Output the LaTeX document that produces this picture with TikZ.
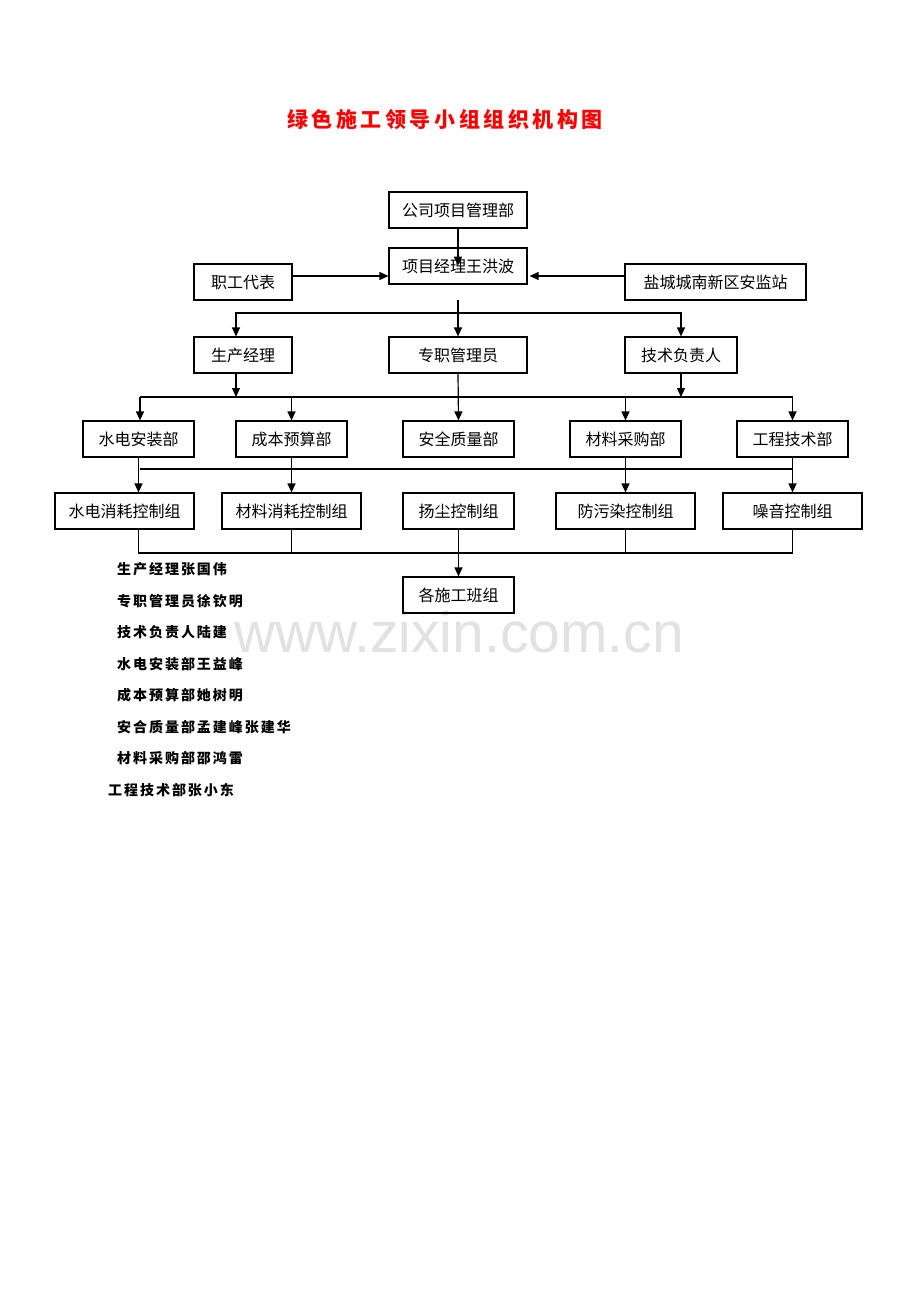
\documentclass[tikz,border=0pt]{standalone}
\usepackage{fontspec}
\usetikzlibrary{arrows.meta}
\setmainfont{Liberation Sans}
\newfontfamily\cjk{Noto Sans CJK SC}
\newfontfamily\cjkls[LetterSpace=14]{Noto Sans CJK SC}
\newfontfamily\cjktitle[LetterSpace=17]{Noto Sans CJK SC}
\definecolor{titlered}{RGB}{255,0,0}
\definecolor{wmgray}{RGB}{226,226,226}
\begin{document}
\begin{tikzpicture}[x=1pt,y=-1pt,
  box/.style={draw,line width=1.2pt,inner sep=0pt,minimum height=36pt,font=\cjk\fontsize{16}{16}\selectfont},
  arr/.style={line width=1.2pt,-{Triangle[length=9pt,width=8pt]}},
  ln/.style={line width=1.2pt},
  note/.style={anchor=west,inner sep=0pt,font=\cjkls\bfseries\fontsize{14}{14}\selectfont}]
\useasboundingbox[fill=white] (0,0) rectangle (920,1302);
\node[text=wmgray,font=\fontsize{57}{57}\selectfont,inner sep=0pt] (wm) at (459,632) {www.zixin.com.cn};
\node[text=titlered,font=\cjktitle\bfseries\fontsize{21}{21}\selectfont,inner sep=0pt] (title) at (445,120) {绿色施工领导小组组织机构图};
% boxes
\node[box,minimum width=138pt] (gs) at (458,210) {公司项目管理部};
\node[box,minimum width=138pt] (pm) at (458,266) {项目经理王洪波};
\node[box,minimum width=98pt] (zg) at (243,282) {职工代表};
\node[box,minimum width=181pt] (aj) at (715.5,282) {盐城城南新区安监站};
\node[box,minimum width=98pt] (sc) at (243,355) {生产经理};
\node[box,minimum width=138pt] (zz) at (458,355) {专职管理员};
\node[box,minimum width=112pt] (js) at (681,355) {技术负责人};
\node[box,minimum width=111pt] (sd) at (138.5,439) {水电安装部};
\node[box,minimum width=111pt] (cb) at (291.5,439) {成本预算部};
\node[box,minimum width=111pt] (aq) at (458.5,439) {安全质量部};
\node[box,minimum width=111pt] (cl) at (625.5,439) {材料采购部};
\node[box,minimum width=111pt] (gc) at (792.5,439) {工程技术部};
\node[box,minimum width=139pt] (sdk) at (124.5,511) {水电消耗控制组};
\node[box,minimum width=139pt] (clk) at (291.5,511) {材料消耗控制组};
\node[box,minimum width=111pt] (yc) at (458.5,511) {扬尘控制组};
\node[box,minimum width=139pt] (fw) at (625.5,511) {防污染控制组};
\node[box,minimum width=139pt] (zy) at (792.5,511) {噪音控制组};
\node[box,minimum width=111pt] (gb) at (458.5,595) {各施工班组};
% connectors
\draw[arr] (gs.south) -- ++(0,37);
\draw[arr] ([yshift=6pt]zg.east) -- ([yshift=6pt]zg.east -| pm.west);
\draw[arr] ([yshift=6pt]aj.west) -- ([yshift=6pt,xshift=2pt]aj.west -| pm.east);
\coordinate (p1) at (458,300);
\coordinate (b1) at (458,313);
\draw[arr] (p1) -- (zz.north);
\draw[arr] (b1) -| ([xshift=-7pt]sc.north);
\draw[arr] (b1) -| (js.north);
\coordinate (b2) at (458,397);
\draw[arr] ([xshift=-7pt]sc.south) -- ([xshift=-7pt]sc.south |- b2);
\draw[arr] (js.south) -- (js.south |- b2);
\draw[arr] (zz.south) -- (aq.north);
\draw[ln] ([xshift=1.5pt]b2 -| sd.north) -- (b2 -| gc.north);
\draw[arr] ([xshift=1.5pt]b2 -| sd.north) -- ([xshift=1.5pt]sd.north);
\draw[arr] (b2 -| cb.north) -- (cb.north);
\draw[arr] (b2 -| cl.north) -- (cl.north);
\draw[arr] (b2 -| gc.north) -- (gc.north);
\coordinate (b3) at (458,469);
\draw[ln] ([xshift=1.5pt]b3 -| sd.south) -- (b3 -| gc.south);
\draw[arr] (sd.south) -- (sd.south |- sdk.north);
\draw[arr] (cb.south) -- (clk.north);
\draw[arr] (cl.south) -- (fw.north);
\draw[arr] (gc.south) -- (zy.north);
\coordinate (b4) at (458,553);
\draw[ln] (sd.south |- sdk.south) -- (sd.south |- b4) -- (b4 -| zy.south) -- (zy.south);
\draw[ln] (clk.south) -- (clk.south |- b4);
\draw[ln] (fw.south) -- (fw.south |- b4);
\draw[arr] (yc.south) -- (gb.north);
% notes
\node[note] (t1) at (117,569) {生产经理张国伟};
\node[note] (t2) at (117,601) {专职管理员徐钦明};
\node[note] (t3) at (117,632) {技术负责人陆建};
\node[note] (t4) at (117,664) {水电安装部王益峰};
\node[note] (t5) at (117,695) {成本预算部她树明};
\node[note] (t6) at (117,727) {安合质量部孟建峰张建华};
\node[note] (t7) at (117,758) {材料采购部邵鸿雷};
\node[note] (t8) at (108,790) {工程技术部张小东};
\end{tikzpicture}
\end{document}
